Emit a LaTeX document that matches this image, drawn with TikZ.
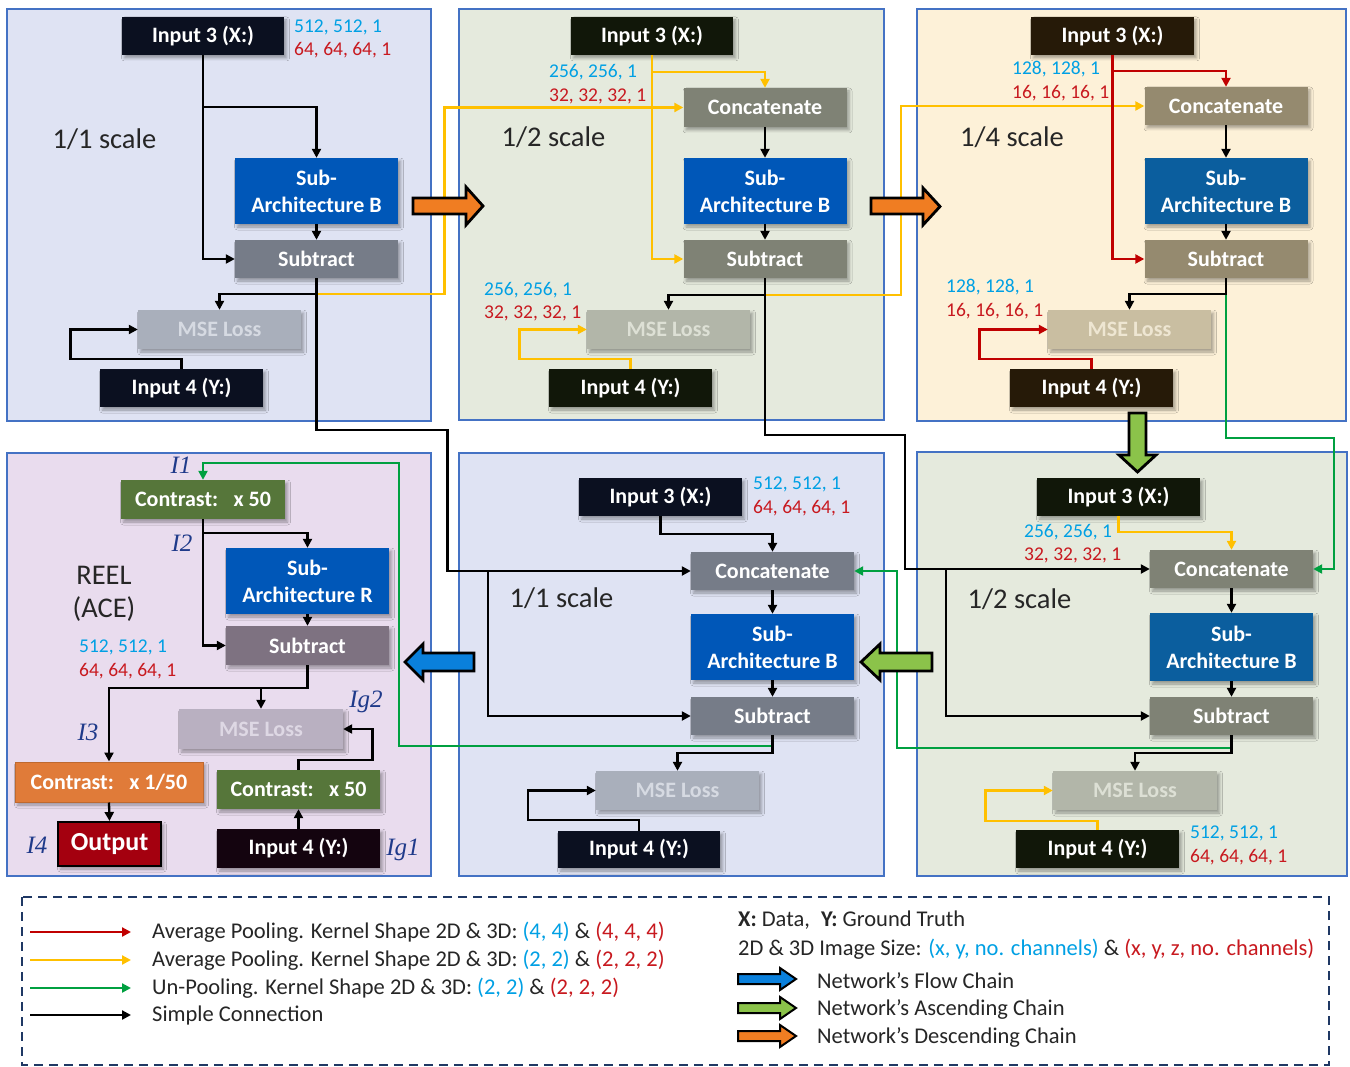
\documentclass[tikz,border=0pt]{standalone}
\usepackage{fontspec}
\setmainfont{Carlito}
\newfontfamily\lblfont{Liberation Serif}
\usetikzlibrary{calc,arrows.meta,shadows.blur}

% panel backgrounds
\definecolor{pBlue}{HTML}{DFE3F3}
\definecolor{pGreen}{HTML}{E5EADD}
\definecolor{pCream}{HTML}{FDF1D8}
\definecolor{pLilac}{HTML}{E9DCEE}
\definecolor{pEdge}{HTML}{4472C4}
% box fills
\definecolor{inBlue}{HTML}{0B1020}
\definecolor{inGreen}{HTML}{111709}
\definecolor{inBrown}{HTML}{261A08}
\definecolor{inPurple}{HTML}{14040F}
\definecolor{subArch}{HTML}{0057B8}
\definecolor{subArchT}{HTML}{0B5E9E}
\definecolor{grayB}{HTML}{767C88}
\definecolor{grayG}{HTML}{7F8275}
\definecolor{grayT}{HTML}{958A6F}
\definecolor{grayP}{HTML}{7E7281}
\definecolor{mseB}{HTML}{A9AFBB}
\definecolor{mseG}{HTML}{B2B6A9}
\definecolor{mseT}{HTML}{C9BEA1}
\definecolor{mseP}{HTML}{B9B0C1}
\definecolor{mseBt}{HTML}{D6DAE2}
\definecolor{mseGt}{HTML}{DDE0D5}
\definecolor{mseTt}{HTML}{EEE6D2}
\definecolor{msePt}{HTML}{DED8E4}
\definecolor{contGreen}{HTML}{56763A}
\definecolor{contOrange}{HTML}{E07B39}
\definecolor{outRed}{HTML}{A4000F}
% lines and text
\definecolor{lnRed}{HTML}{C00000}
\definecolor{lnYellow}{HTML}{FFC000}
\definecolor{lnGreen}{HTML}{00A040}
\definecolor{txCyan}{HTML}{00A0E4}
\definecolor{txRed}{HTML}{C8191F}
\definecolor{txNavy}{HTML}{1F3A8A}
\definecolor{legEdge}{HTML}{1F3864}
\definecolor{bkOrange}{HTML}{F07D22}
\definecolor{bkGreen}{HTML}{8BC34A}
\definecolor{bkBlue}{HTML}{0A80DC}

\tikzset{
  panel/.style={draw=pEdge, line width=1.4pt},
  box/.style={rectangle, inner sep=0pt, align=center, text=white,
    font=\bfseries\fontsize{22}{27}\selectfont,
    minimum width=163pt, minimum height=38pt,
    blur shadow={shadow xshift=2.5pt, shadow yshift=-3pt, shadow blur radius=3pt, shadow opacity=35}},
  archbox/.style={box, minimum height=66pt},
  conn/.style={line width=2.3pt, -{Triangle[length=9pt,width=9pt]}},
  blkconn/.style={conn, draw=black},
  redconn/.style={conn, draw=lnRed},
  yelconn/.style={conn, draw=lnYellow},
  grnconn/.style={conn, draw=lnGreen},
  dims/.style={anchor=west, inner sep=0pt, font=\fontsize{19.5}{22}\selectfont},
  scaletxt/.style={inner sep=0pt, font=\fontsize{28.5}{34}\selectfont, text=black!85},
  ilbl/.style={inner sep=0pt, font=\lblfont\itshape\fontsize{25}{25}\selectfont, text=txNavy},
  blockarrow/.style={draw=black, line width=2.8pt, line join=miter},
  legtxt/.style={anchor=west, inner sep=0pt, font=\fontsize{22.5}{26}\selectfont, text=black!85},
}

\begin{document}
\begin{tikzpicture}[x=1pt,y=-1pt]
\useasboundingbox (0,0) rectangle (1350,1067);
\fill[white] (0,0) rectangle (1350,1067);

% ---------- panels ----------
\filldraw[panel, fill=pBlue]  (7,9)   rectangle (431,421);
\filldraw[panel, fill=pGreen] (459,9) rectangle (884,420);
\filldraw[panel, fill=pCream] (917,9) rectangle (1346,421);
\filldraw[panel, fill=pLilac] (7,453) rectangle (431,876);
\filldraw[panel, fill=pBlue]  (459,453) rectangle (884,876);
\filldraw[panel, fill=pGreen] (917,452) rectangle (1347,876);

% ---------- scale captions ----------
\node[scaletxt] (tl-scale) at (104.5,139) {1/1 scale};
\node[scaletxt] (tm-scale) at (553.5,137) {1/2 scale};
\node[scaletxt] (tr-scale) at (1012,137) {1/4 scale};
\node[scaletxt] (bm-scale) at (561.5,598) {1/1 scale};
\node[scaletxt] (br-scale) at (1019.5,599) {1/2 scale};
\node[scaletxt] (bl-reel) at (104,575) {REEL};
\node[scaletxt] (bl-ace) at (104,609) {(ACE)};

% ---------- top-left: 1/1 scale ----------
\node[box, fill=inBlue, minimum width=162pt] (tl-in3) at (203,36) {Input 3 (X:)};
\node[archbox, fill=subArch] (tl-subb) at (316.5,191) {Sub-\\Architecture B};
\node[box, fill=grayB] (tl-sub) at (316.5,259) {Subtract};
\node[box, fill=mseB, text=mseBt, minimum height=39pt] (tl-mse) at (219.5,329.5) {MSE Loss};
\node[box, fill=inBlue] (tl-in4) at (181.5,388) {Input 4 (Y:)};
\node[dims, text=txCyan] (tl-d1) at (294,27) {512, 512, 1};
\node[dims, text=txRed] (tl-d2) at (294,50) {64, 64, 64, 1};

% ---------- top-middle: 1/2 scale ----------
\node[box, fill=inGreen, minimum width=162pt] (tm-in3) at (652,36) {Input 3 (X:)};
\node[box, fill=grayG, minimum height=39pt] (tm-cat) at (765,107.5) {Concatenate};
\node[archbox, fill=subArch] (tm-subb) at (765,191) {Sub-\\Architecture B};
\node[box, fill=grayG] (tm-sub) at (765,259) {Subtract};
\node[box, fill=mseG, text=mseGt, minimum height=39pt] (tm-mse) at (668.5,329.5) {MSE Loss};
\node[box, fill=inGreen] (tm-in4) at (630.5,388) {Input 4 (Y:)};
\node[dims, text=txCyan] (tm-d1) at (549,72) {256, 256, 1};
\node[dims, text=txRed] (tm-d2) at (549,96) {32, 32, 32, 1};
\node[dims, text=txCyan] (tm-d3) at (484,290) {256, 256, 1};
\node[dims, text=txRed] (tm-d4) at (484,313) {32, 32, 32, 1};

% ---------- top-right: 1/4 scale ----------
\node[box, fill=inBrown] (tr-in3) at (1112.5,36) {Input 3 (X:)};
\node[box, fill=grayT] (tr-cat) at (1226,106) {Concatenate};
\node[archbox, fill=subArchT] (tr-subb) at (1226,191) {Sub-\\Architecture B};
\node[box, fill=grayT] (tr-sub) at (1226,259) {Subtract};
\node[box, fill=mseT, text=mseTt, minimum height=39pt] (tr-mse) at (1129.5,329.5) {MSE Loss};
\node[box, fill=inBrown] (tr-in4) at (1091.5,388) {Input 4 (Y:)};
\node[dims, text=txCyan] (tr-d1) at (1012,69) {128, 128, 1};
\node[dims, text=txRed] (tr-d2) at (1012,93) {16, 16, 16, 1};
\node[dims, text=txCyan] (tr-d3) at (946,287) {128, 128, 1};
\node[dims, text=txRed] (tr-d4) at (946,311) {16, 16, 16, 1};

% ---------- bottom-left: REEL (ACE) ----------
\node[box, fill=contGreen, minimum width=164pt, minimum height=39pt] (bl-c1) at (203,499.5) {Contrast:\hspace{0.7em}x 50};
\node[archbox, fill=subArch] (bl-subr) at (307.5,581) {Sub-\\Architecture R};
\node[box, fill=grayP, minimum height=39pt] (bl-sub) at (307.5,645.5) {Subtract};
\node[box, fill=mseP, text=msePt, minimum width=164pt, minimum height=40pt] (bl-mse) at (261,729) {MSE Loss};
\node[box, fill=contOrange, draw=contOrange!85!black, line width=1pt, minimum width=188pt, minimum height=40pt] (bl-c2) at (109,782) {Contrast:\hspace{0.7em}x 1/50};
\node[box, fill=contGreen, minimum height=39pt] (bl-c3) at (298.5,789.5) {Contrast:\hspace{0.7em}x 50};
\node[box, fill=inPurple, minimum height=39pt] (bl-in4) at (298.5,848.5) {Input 4 (Y:)};
\node[box, fill=outRed, draw=black, line width=2pt, minimum width=103pt, minimum height=44pt,
      font=\bfseries\fontsize{26}{30}\selectfont] (bl-out) at (109.5,844) {Output};
\node[dims, text=txCyan] (bl-d1) at (79,647) {512, 512, 1};
\node[dims, text=txRed] (bl-d2) at (79,671) {64, 64, 64, 1};
\node[ilbl] (bl-i1) at (181,465) {I1};
\node[ilbl] (bl-i2) at (182,543) {I2};
\node[ilbl] (bl-i3) at (88,732) {I3};
\node[ilbl] (bl-i4) at (37,845) {I4};
\node[ilbl] (bl-ig2) at (366,702) {Ig2};
\node[ilbl] (bl-ig1) at (403,850) {Ig1};

% ---------- bottom-middle: 1/1 scale ----------
\node[box, fill=inBlue] (bm-in3) at (660.5,497) {Input 3 (X:)};
\node[box, fill=grayB] (bm-cat) at (772.5,571) {Concatenate};
\node[archbox, fill=subArch] (bm-subb) at (772.5,647) {Sub-\\Architecture B};
\node[box, fill=grayB] (bm-sub) at (772.5,716) {Subtract};
\node[box, fill=mseB, text=mseBt, minimum height=39pt] (bm-mse) at (677.5,790.5) {MSE Loss};
\node[box, fill=inBlue, minimum width=162pt, minimum height=37pt] (bm-in4) at (639,849.5) {Input 4 (Y:)};
\node[dims, text=txCyan] (bm-d1) at (753,484) {512, 512, 1};
\node[dims, text=txRed] (bm-d2) at (753,508) {64, 64, 64, 1};

% ---------- bottom-right: 1/2 scale ----------
\node[box, fill=inGreen] (br-in3) at (1118.5,497) {Input 3 (X:)};
\node[box, fill=grayG] (br-cat) at (1231.5,569) {Concatenate};
\node[archbox, fill=subArchT, minimum height=68pt] (br-subb) at (1231.5,647) {Sub-\\Architecture B};
\node[box, fill=grayG] (br-sub) at (1231.5,716) {Subtract};
\node[box, fill=mseG, text=mseGt, minimum width=164pt, minimum height=39pt] (br-mse) at (1135,790.5) {MSE Loss};
\node[box, fill=inGreen] (br-in4) at (1097.5,849) {Input 4 (Y:)};
\node[dims, text=txCyan] (br-d1) at (1024,532) {256, 256, 1};
\node[dims, text=txRed] (br-d2) at (1024,555) {32, 32, 32, 1};
\node[dims, text=txCyan] (br-d3) at (1190,833) {512, 512, 1};
\node[dims, text=txRed] (br-d4) at (1190,857) {64, 64, 64, 1};

% ---------- connectors: top-left ----------
\draw[blkconn] (tl-in3.south) |- (tl-sub.west);
\draw[blkconn] (tl-in3.south) -- ++(0,52) -| (tl-subb.north);
\draw[blkconn] (tl-subb.south) -- (tl-sub.north);
\draw[yelconn] (tl-sub.south) ++(0,16) -- ++(128,0) |- (tm-cat.west);
\draw[blkconn] (tl-sub.south) -- ++(0,16) -| (tl-mse.north);
\draw[blkconn] (tl-sub.south) -- ++(0,152) -- ++(131,0) |- (bm-cat.west);
\draw[blkconn] (tl-in4.north) -- ++(0,-10) -- ++(-111,0) |- (tl-mse.west);

% ---------- connectors: top-middle ----------
\draw[yelconn] (tm-in3.south) |- (tm-sub.west);
\draw[yelconn] (tm-in3.south) -- ++(0,17) -| (tm-cat.north);
\draw[blkconn] (tm-cat.south) -- (tm-subb.north);
\draw[blkconn] (tm-subb.south) -- (tm-sub.north);
\draw[yelconn] (tm-sub.south) ++(0,17) -- ++(136,0) |- (tr-cat.west);
\draw[blkconn] (tm-sub.south) -- ++(0,17) -| (tm-mse.north);
\draw[blkconn] (tm-sub.south) -- ++(0,157) -- ++(140,0) |- (br-cat.west);
\draw[yelconn] (tm-in4.north) -- ++(0,-10) -- ++(-111,0) |- (tm-mse.west);

% ---------- connectors: top-right ----------
\draw[redconn] (tr-in3.south) |- (tr-sub.west);
\draw[redconn] (tr-in3.south) -- ++(0,16) -| (tr-cat.north);
\draw[blkconn] (tr-cat.south) -- (tr-subb.north);
\draw[blkconn] (tr-subb.south) -- (tr-sub.north);
\draw[grnconn] (tr-sub.south) -- ++(0,160) -- ++(108,0) |- (br-cat.east);
\draw[blkconn] (tr-sub.south) -- ++(0,16) -| (tr-mse.north);
\draw[redconn] (tr-in4.north) -- ++(0,-10) -- ++(-112,0) |- (tr-mse.west);

% ---------- connectors: bottom-right ----------
\draw[yelconn] (br-in3.south) -- ++(0,16) -| (br-cat.north);
\draw[blkconn] ([xshift=-204pt]br-cat.west) |- (br-sub.west);
\draw[blkconn] (br-cat.south) -- (br-subb.north);
\draw[blkconn] (br-subb.south) -- (br-sub.north);
\draw[grnconn] (br-sub.south) -- ++(0,13) -| ([xshift=43pt]bm-cat.east) -- (bm-cat.east);
\draw[blkconn] (br-sub.south) -- ++(0,18) -| (br-mse.north);
\draw[yelconn] (br-in4.north) -- ++(0,-9) -- ++(-112,0) |- (br-mse.west);

% ---------- connectors: bottom-middle ----------
\draw[blkconn] (bm-in3.south) -- ++(0,18) -| (bm-cat.north);
\draw[blkconn] ([xshift=-203pt]bm-cat.west) |- (bm-sub.west);
\draw[blkconn] (bm-cat.south) -- (bm-subb.north);
\draw[blkconn] (bm-subb.south) -- (bm-sub.north);
\draw[grnconn] (bm-sub.south) -- ++(0,11) -- ++(-373.5,0) |- ([yshift=17pt]bl-c1.north) -- (bl-c1.north);
\draw[blkconn] (bm-sub.south) -- ++(0,18) -| (bm-mse.north);
\draw[blkconn] (bm-in4.north) -- ++(0,-11) -- ++(-111,0) |- (bm-mse.west);

% ---------- connectors: bottom-left ----------
\draw[blkconn] (bl-c1.south) |- (bl-sub.west);
\draw[blkconn] (bl-c1.south) -- ++(0,14) -| (bl-subr.north);
\draw[blkconn] (bl-subr.south) -- (bl-sub.north);
\draw[blkconn] (bl-sub.south) -- ++(0,23) -| (bl-c2.north);
\draw[blkconn] (bl-sub.south) -- ++(0,23) -| (bl-mse.north);
\draw[blkconn] (bl-c2.south) -- (bl-out.north);
\draw[blkconn] (bl-in4.north) -- (bl-c3.south);
\draw[blkconn] (bl-c3.north) -- ++(0,-10) -- ++(74,0) |- (bl-mse.east);

% ---------- chain arrows between panels ----------
\filldraw[blockarrow, fill=bkOrange] (413,198) -- (466,198) -- (466,187) -- (483,206) -- (466,225) -- (466,214) -- (413,214) -- cycle;
\filldraw[blockarrow, fill=bkOrange] (871,198) -- (923,198) -- (923,188) -- (940,206.5) -- (923,225) -- (923,214) -- (871,214) -- cycle;
\filldraw[blockarrow, fill=bkBlue] (474,653) -- (423,653) -- (423,644) -- (405,662) -- (423,680) -- (423,671) -- (474,671) -- cycle;
\filldraw[blockarrow, fill=bkGreen] (932,653) -- (880,653) -- (880,644) -- (861,662) -- (880,680) -- (880,671) -- (932,671) -- cycle;
\filldraw[blockarrow, fill=bkGreen] (1129,413) -- (1129,455) -- (1119,455) -- (1137.5,472) -- (1156,455) -- (1146,455) -- (1146,413) -- cycle;

% ---------- legend ----------
\draw[legEdge, line width=1.8pt, dash pattern=on 9pt off 6pt] (22,897) rectangle (1329,1065);
\coordinate (lg-r0) at (30,932);   \coordinate (lg-r1) at (131,932);
\coordinate (lg-y0) at (30,960);   \coordinate (lg-y1) at (131,960);
\coordinate (lg-g0) at (30,988);   \coordinate (lg-g1) at (131,988);
\coordinate (lg-k0) at (30,1015);  \coordinate (lg-k1) at (131,1015);
\draw[redconn] (lg-r0) -- (lg-r1);
\draw[yelconn] (lg-y0) -- (lg-y1);
\draw[grnconn] (lg-g0) -- (lg-g1);
\draw[blkconn] (lg-k0) -- (lg-k1);
\node[legtxt] (lg-t1) at (152,932) {Average Pooling. Kernel Shape 2D \& 3D: \textcolor{txCyan}{(4, 4)} \& \textcolor{txRed}{(4, 4, 4)}};
\node[legtxt] (lg-t2) at (152,960) {Average Pooling. Kernel Shape 2D \& 3D: \textcolor{txCyan}{(2, 2)} \& \textcolor{txRed}{(2, 2, 2)}};
\node[legtxt] (lg-t3) at (152,988) {Un-Pooling. Kernel Shape 2D \& 3D: \textcolor{txCyan}{(2, 2)} \& \textcolor{txRed}{(2, 2, 2)}};
\node[legtxt] (lg-t4) at (152,1015) {Simple Connection};
\node[legtxt] (lg-t5) at (738,920) {\textbf{X:} Data,\hspace{0.5em}\textbf{Y:} Ground Truth};
\node[legtxt] (lg-t6) at (738,949) {2D \& 3D Image Size: \textcolor{txCyan}{(x, y, no. channels)} \& \textcolor{txRed}{(x, y, z, no. channels)}};
\filldraw[blockarrow, line width=2pt, fill=bkBlue]   (738,974) -- (780,974) -- (780,968) -- (796,979) -- (780,990) -- (780,984) -- (738,984) -- cycle;
\filldraw[blockarrow, line width=2pt, fill=bkGreen]  (738,1003) -- (780,1003) -- (780,997) -- (796,1008) -- (780,1019) -- (780,1013) -- (738,1013) -- cycle;
\filldraw[blockarrow, line width=2pt, fill=bkOrange] (738,1031) -- (780,1031) -- (780,1025) -- (796,1036) -- (780,1047) -- (780,1041) -- (738,1041) -- cycle;
\node[legtxt] (lg-t7) at (817,981) {Network’s Flow Chain};
\node[legtxt] (lg-t8) at (817,1009) {Network’s Ascending Chain};
\node[legtxt] (lg-t9) at (817,1037) {Network’s Descending Chain};

\end{tikzpicture}
\end{document}
